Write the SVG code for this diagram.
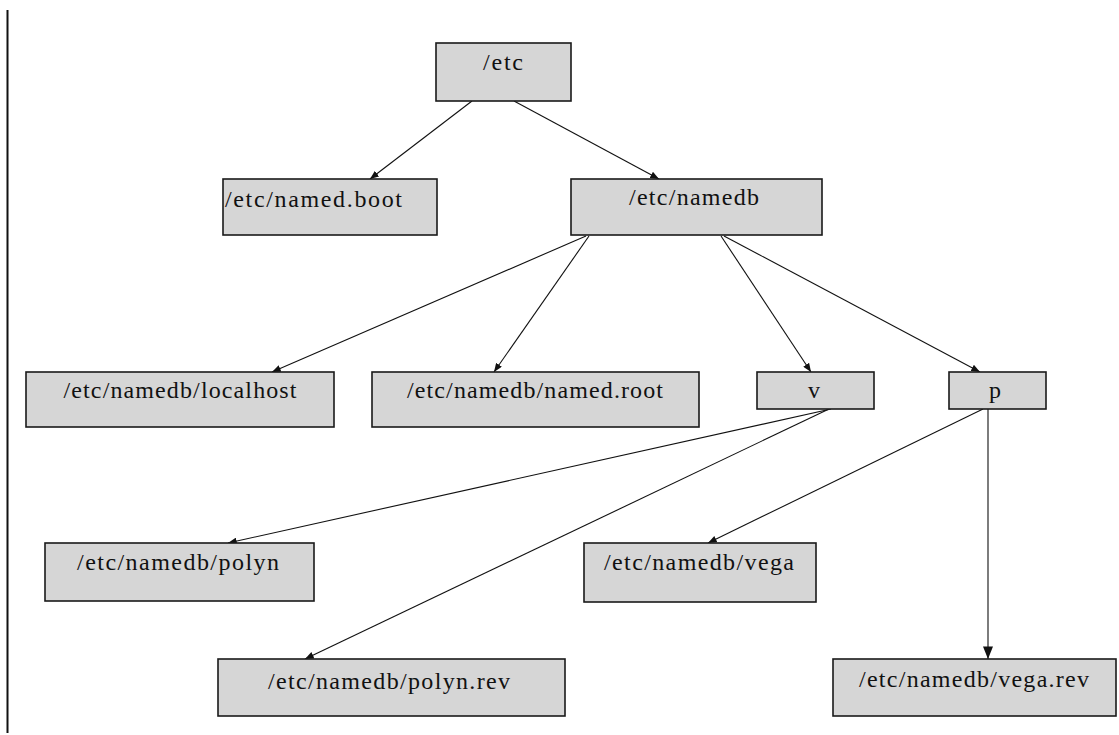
<svg xmlns="http://www.w3.org/2000/svg" width="1119" height="735" viewBox="0 0 1119 735">
  <style>
    .box rect { fill: #d6d6d6; stroke: #1a1a1a; stroke-width: 1.6; }
    .box text { font-family: "Liberation Serif", "Times New Roman", serif; font-size: 24px; fill: #111; }
    .mid { text-anchor: middle; }
    #edges line { stroke: #111; stroke-width: 1.1; marker-end: url(#arrow); }
  </style>
  <defs>
    <marker id="arrow" viewBox="0 0 10 8" refX="10" refY="4" markerWidth="9" markerHeight="7" markerUnits="userSpaceOnUse" orient="auto">
      <path d="M0,0 L10,4 L0,8 z" fill="#111"/>
    </marker>
    <marker id="arrowBig" viewBox="0 0 10 8" refX="10" refY="4" markerWidth="13" markerHeight="10" markerUnits="userSpaceOnUse" orient="auto">
      <path d="M0,0 L10,4 L0,8 z" fill="#111"/>
    </marker>
  </defs>

  <rect width="1119" height="735" fill="#ffffff"/>

  <!-- left margin rule -->
  <line x1="7.5" y1="10" x2="7.5" y2="733" stroke="#111" stroke-width="2"/>

  <!-- connectors -->
  <g id="edges">
    <line x1="472" y1="101" x2="370" y2="179"/>
    <line x1="514" y1="101" x2="659" y2="179"/>
    <line x1="586" y1="236" x2="272" y2="372"/>
    <line x1="589" y1="236" x2="494" y2="372"/>
    <line x1="721" y1="236" x2="811" y2="372"/>
    <line x1="724" y1="236" x2="980" y2="372"/>
    <line x1="831" y1="409" x2="228" y2="543"/>
    <line x1="829" y1="409" x2="305" y2="659"/>
    <line x1="983" y1="409" x2="708" y2="543"/>
    <line x1="988" y1="409" x2="988" y2="659" style="marker-end:url(#arrowBig)"/>
  </g>

  <!-- nodes -->
  <g id="n-etc" class="box">
    <rect x="436" y="43" width="135" height="58"/>
    <text class="mid" x="503" y="70" textLength="40" lengthAdjust="spacing">/etc</text>
  </g>
  <g id="n-named-boot" class="box">
    <rect x="223" y="179" width="214" height="56"/>
    <text x="225" y="207" textLength="177" lengthAdjust="spacing">/etc/named.boot</text>
  </g>
  <g id="n-namedb" class="box">
    <rect x="571" y="179" width="251" height="56"/>
    <text class="mid" x="694" y="205" textLength="130" lengthAdjust="spacing">/etc/namedb</text>
  </g>
  <g id="n-localhost" class="box">
    <rect x="26" y="372" width="308" height="55"/>
    <text class="mid" x="180" y="398" textLength="233" lengthAdjust="spacing">/etc/namedb/localhost</text>
  </g>
  <g id="n-named-root" class="box">
    <rect x="372" y="372" width="327" height="55"/>
    <text class="mid" x="535" y="398" textLength="256" lengthAdjust="spacing">/etc/namedb/named.root</text>
  </g>
  <g id="n-v" class="box">
    <rect x="757" y="372" width="117" height="37"/>
    <text class="mid" x="814" y="398">v</text>
  </g>
  <g id="n-p" class="box">
    <rect x="949" y="372" width="97" height="37"/>
    <text class="mid" x="995" y="398">p</text>
  </g>
  <g id="n-polyn" class="box">
    <rect x="45" y="543" width="269" height="58"/>
    <text class="mid" x="178" y="570" textLength="202" lengthAdjust="spacing">/etc/namedb/polyn</text>
  </g>
  <g id="n-vega" class="box">
    <rect x="584" y="543" width="232" height="59"/>
    <text class="mid" x="699" y="570" textLength="190" lengthAdjust="spacing">/etc/namedb/vega</text>
  </g>
  <g id="n-polyn-rev" class="box">
    <rect x="218" y="659" width="347" height="57"/>
    <text class="mid" x="389" y="689" textLength="242" lengthAdjust="spacing">/etc/namedb/polyn.rev</text>
  </g>
  <g id="n-vega-rev" class="box">
    <rect x="833" y="659" width="283" height="57"/>
    <text class="mid" x="974" y="687" textLength="230" lengthAdjust="spacing">/etc/namedb/vega.rev</text>
  </g>
</svg>
